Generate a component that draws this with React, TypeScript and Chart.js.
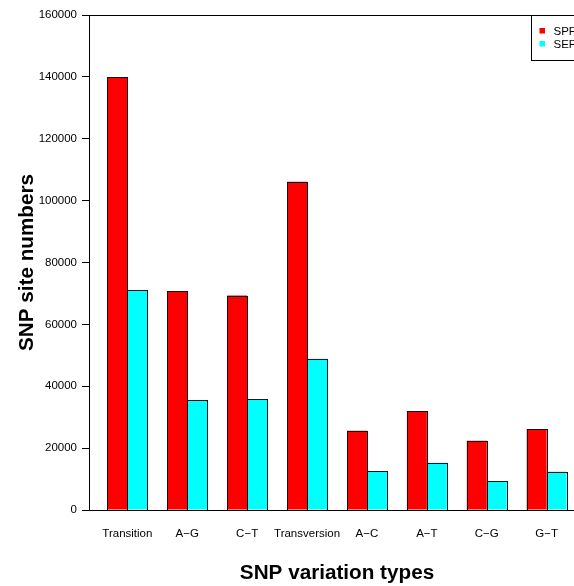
import React, { useEffect, useRef } from "react";
import { Chart, registerables } from "chart.js";

Chart.register(...registerables);

const categories = ["Transition", "A\u2212G", "C\u2212T", "Transversion", "A\u2212C", "A\u2212T", "C\u2212G", "G\u2212T"];
const spfValues = [140000, 70800, 69300, 106100, 25600, 32000, 22400, 26100];
const sefValues = [71100, 35500, 35800, 48900, 12600, 15300, 9300, 12400];
const seriesLabels = ["SPF", "SEF"];
const seriesColors = ["#FF0000", "#00FFFF"];
const yTicks = [0, 20000, 40000, 60000, 80000, 100000, 120000, 140000, 160000];

const FONT = "'Liberation Sans', Arial, Helvetica, sans-serif";

const crispOutlinePlugin = {
  id: "crispOutline",
  afterDatasetsDraw(chart: any) {
    const { ctx } = chart;
    ctx.save();
    ctx.strokeStyle = "#111";
    ctx.lineWidth = 1;
    chart.data.datasets.forEach((_: any, di: number) => {
      const meta = chart.getDatasetMeta(di);
      meta.data.forEach((el: any) => {
        const { x, y, base, width } = el.getProps(["x", "y", "base", "width"], true);
        const l = Math.round(x - width / 2) + 0.5;
        const r = Math.round(x + width / 2) + 0.5;
        const t = Math.round(y) + 0.5;
        const b = Math.round(base) + 0.5;
        ctx.strokeRect(l, t, r - l, b - t);
      });
    });
    ctx.restore();
  },
};

const boxLegendPlugin = {
  id: "boxLegend",
  afterDraw(chart: any) {
    const { ctx, chartArea: a } = chart;
    ctx.save();
    ctx.strokeStyle = "#000";
    ctx.lineWidth = 1;
    const l = Math.round(a.left) + 0.5;
    const t = Math.round(a.top) + 0.5;
    const r = Math.round(a.right) + 0.5;
    const b = Math.round(a.bottom) + 0.5;
    ctx.strokeRect(l, t, r - l, b - t);

    // legend (top-right, inside plot)
    const lw = 54;
    const lh = 45;
    const lx = Math.round(a.right - lw) + 0.5;
    const ly = t;
    ctx.fillStyle = "#fff";
    ctx.fillRect(lx, ly, lw, lh);
    ctx.strokeRect(lx, ly, lw, lh);
    ctx.font = `11.5px ${FONT}`;
    ctx.textBaseline = "middle";
    ctx.textAlign = "left";
    chart.data.datasets.forEach((ds: any, i: number) => {
      const cy = ly + 15.5 + i * 13;
      ctx.fillStyle = ds.backgroundColor;
      ctx.fillRect(lx + 8, cy - 3, 5.5, 5.5);
      ctx.fillStyle = "#000";
      ctx.fillText(ds.label, lx + 22, cy + 0.5);
    });
    ctx.restore();
  },
};

export default function App() {
  const ref = useRef<HTMLCanvasElement | null>(null);

  useEffect(() => {
    if (!ref.current) return;
    const datasets = [spfValues, sefValues].map((vals, si) => ({
      label: seriesLabels[si],
      data: vals.map((v, i) => ({ x: 3 * i + 2, y: v })),
      backgroundColor: seriesColors[si],
      borderWidth: 0,
      categoryPercentage: 2 / 3,
      barPercentage: 1,
    }));
    const chart = new Chart(ref.current, {
      type: "bar",
      data: { datasets },
      plugins: [crispOutlinePlugin, boxLegendPlugin],
      options: {
        animation: false,
        responsive: false,
        devicePixelRatio: 1,
        layout: { padding: { left: 0, top: 15, right: 15, bottom: 0 } },
        plugins: { legend: { display: false }, tooltip: { enabled: false } },
        scales: {
          x: {
            type: "linear",
            min: 0.08,
            max: 24.92,
            offset: false,
            grid: { display: false, drawTicks: false, offset: false },
            border: { display: false },
            afterBuildTicks: (scale: any) => {
              scale.ticks = categories.map((_, i) => ({ value: 3 * i + 2 }));
            },
            afterFit: (scale: any) => {
              scale.height = 76;
            },
            ticks: {
              autoSkip: false,
              maxRotation: 0,
              padding: 17,
              color: "#000",
              font: { family: FONT, size: 11.5 },
              callback: (_v: any, idx: number) => categories[idx],
            },
            title: {
              display: true,
              text: "SNP variation types",
              color: "#000",
              font: { family: FONT, size: 20.7, weight: "bold" },
              padding: { top: 0, bottom: 0.2 },
            },
          },
          y: {
            type: "linear",
            min: 0,
            max: 160000,
            grid: { drawOnChartArea: false, drawTicks: true, tickLength: 7, color: "#000" },
            border: { display: false },
            afterBuildTicks: (scale: any) => {
              scale.ticks = yTicks.map((v) => ({ value: v }));
            },
            afterFit: (scale: any) => {
              scale.width = 89;
            },
            ticks: {
              padding: 5,
              color: "#000",
              font: { family: FONT, size: 11.5 },
              callback: (v: any) => String(v),
            },
            title: {
              display: true,
              text: "SNP site numbers",
              color: "#000",
              font: { family: FONT, size: 20.7, weight: "bold" },
              padding: { top: 15.2, bottom: 0 },
            },
          },
        },
      } as any,
    });
    return () => chart.destroy();
  }, []);

  return (
    <div style={{ position: "absolute", left: 0, top: 0, width: 574, height: 586, overflow: "hidden", background: "#fff" }}>
      <canvas ref={ref} width={600} height={586} style={{ display: "block" }} />
    </div>
  );
}
